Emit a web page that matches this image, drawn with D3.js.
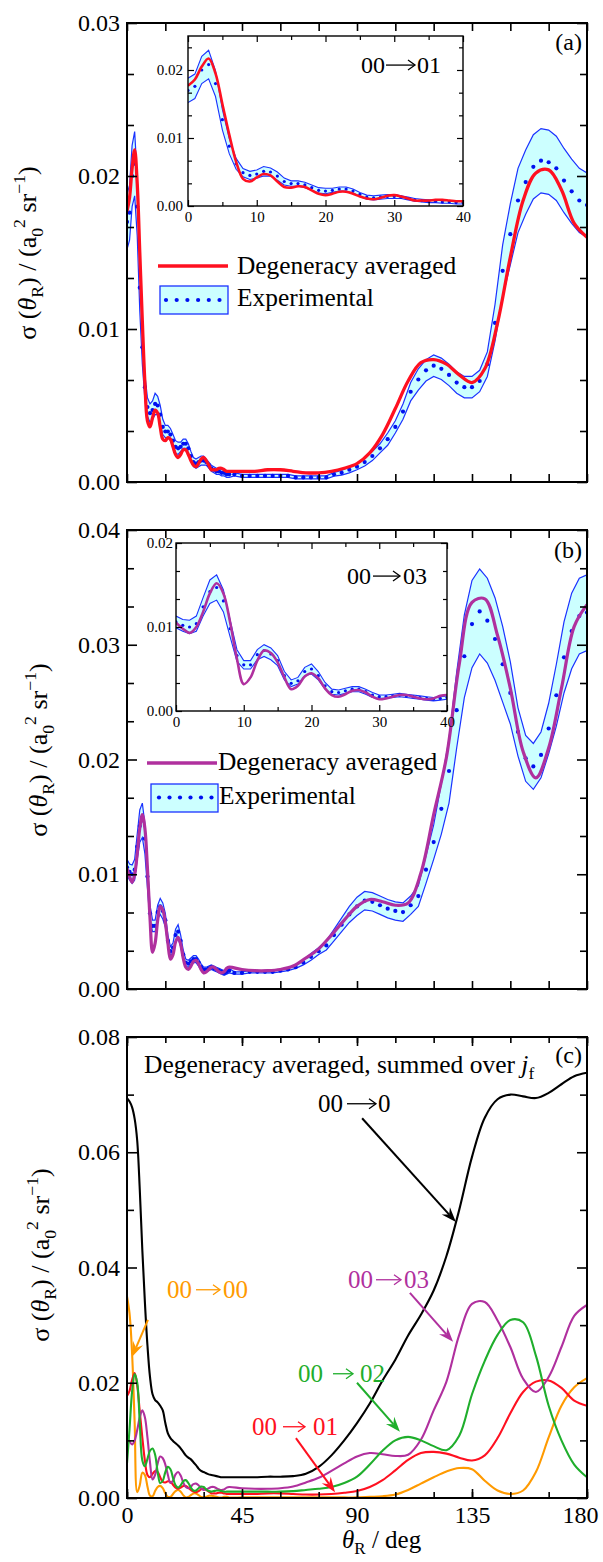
<!DOCTYPE html>
<html>
<head>
<meta charset="utf-8">
<script src="https://cdn.jsdelivr.net/npm/d3@7/dist/d3.min.js"></script>
<style>
html,body{margin:0;padding:0;background:#fff;}
svg{display:block;}
</style>
</head>
<body>
<svg id="chart" width="603" height="1562"></svg>
<script>
// ================= DATA =================
const theoryAngles = [0,1,2,3,4,5,6,7,8,9,10,11,12,13,14,15,16,17,18,19,20,21,22,23,24,25,26,27,28,29,30,31,32,33,34,35,36,37,38,39,40,
  45,50,55,60,65,70,75,80,85,90,95,100,105,110,115,120,125,130,135,140,145,150,155,160,165,170,175,180];

const theory01 = [0.0177,0.0186,0.0205,0.0217,0.0195,0.0150,0.0105,0.0065,0.0040,0.0036,0.0042,0.0047,0.0045,0.0036,0.0028,0.0027,0.0029,0.0028,0.0023,0.0018,0.0016,0.0018,0.0021,0.0021,0.0018,0.0014,0.0011,0.0010,0.0012,0.0015,0.0016,0.0014,0.0011,0.0008,0.0008,0.0008,0.0009,0.0009,0.0008,0.0007,0.0007,
  0.0007,0.0007,0.0008,0.0008,0.0007,0.0006,0.0006,0.0007,0.0009,0.0012,0.0019,0.0031,0.0048,0.0066,0.0078,0.0080,0.0077,0.0070,0.0065,0.0074,0.0104,0.0147,0.0184,0.0202,0.0204,0.0191,0.0169,0.0160];

const theory03 = [0.0105,0.0098,0.0093,0.0100,0.0118,0.0140,0.0152,0.0140,0.0105,0.0062,0.0032,0.0040,0.0060,0.0072,0.0069,0.0058,0.0040,0.0026,0.0030,0.0041,0.0045,0.0039,0.0027,0.0019,0.0017,0.0020,0.0024,0.0025,0.0022,0.0017,0.0014,0.0015,0.0017,0.0019,0.0019,0.0017,0.0015,0.0014,0.0015,0.0018,0.0019,
  0.0017,0.0016,0.0016,0.0017,0.0020,0.0027,0.0035,0.0047,0.0060,0.0072,0.0078,0.0076,0.0073,0.0075,0.0101,0.0152,0.0202,0.0283,0.0337,0.0340,0.0308,0.0262,0.0207,0.0184,0.0210,0.0262,0.0316,0.0335];

const theory02 = [0.0060,0.0120,0.0185,0.0215,0.0200,0.0130,0.0065,0.0055,0.0068,0.0082,0.0086,0.0075,0.0045,0.0026,0.0030,0.0045,0.0054,0.0050,0.0035,0.0022,0.0018,0.0022,0.0029,0.0031,0.0026,0.0018,0.0013,0.0013,0.0017,0.0020,0.0019,0.0015,0.0012,0.0011,0.0012,0.0013,0.0013,0.0012,0.0011,0.0011,0.0011,
  0.0011,0.0011,0.0011,0.0011,0.0012,0.0014,0.0016,0.0019,0.0026,0.0037,0.0058,0.0082,0.0100,0.0106,0.0100,0.0090,0.0083,0.0108,0.0180,0.0238,0.0283,0.0309,0.0305,0.0247,0.0160,0.0100,0.0058,0.0036];

const theory00 = [0.0350,0.0320,0.0250,0.0130,0.0010,0.0022,0.0044,0.0040,0.0020,0.0004,0.0003,0.0012,0.0019,0.0021,0.0017,0.0008,0.0002,0.0002,0.0007,0.0012,0.0014,0.0011,0.0005,0.0001,0.0002,0.0005,0.0008,0.0008,0.0005,0.0002,0.0001,0.0002,0.0004,0.0004,0.0003,0.0002,0.0001,0.0001,0.0002,0.0002,0.0001,
  0.0001,0.0001,0.0001,0.0001,0.0001,0.0001,0.0001,0.0001,0.0001,0.0001,0.0002,0.0003,0.0006,0.0014,0.0025,0.0036,0.0046,0.0052,0.0050,0.0030,0.0013,0.0007,0.0013,0.0045,0.0105,0.0160,0.0192,0.0208];

const theorySum = [0.0694,0.0688,0.0678,0.0658,0.0620,0.0535,0.0430,0.0340,0.0265,0.0210,0.0180,0.0170,0.0166,0.0160,0.0152,0.0130,0.0112,0.0104,0.0099,0.0095,0.0091,0.0086,0.0080,0.0074,0.0070,0.0067,0.0062,0.0057,0.0051,0.0047,0.0045,0.0043,0.0041,0.0040,0.0039,0.0038,0.0037,0.0036,0.0036,0.0036,0.0036,
  0.0036,0.0036,0.0037,0.0037,0.0038,0.0042,0.0054,0.0074,0.0100,0.0130,0.0164,0.0204,0.0240,0.0282,0.0318,0.0360,0.0420,0.0500,0.0592,0.0660,0.0692,0.0700,0.0697,0.0694,0.0703,0.0718,0.0732,0.0738];

const expAngles = [0,1,2,3,4,5,6,7,8,9,10,11,12,13,14,15,16,17,18,19,20,21,22,23,24,25,26,27,28,29,30,31,32,33,34,35,36,37,38,39,40,
  42,45,48,51,54,57,60,63,66,69,72,75,78,81,84,87,90,93,96,99,102,105,108,111,114,117,120,123,126,129,132,135,138,141,144,147,150,153,156,159,162,165,168,171,174,177,180];

const exp01 = [0.0170,0.0176,0.0200,0.0208,0.0180,0.0127,0.0088,0.0062,0.0049,0.0045,0.0047,0.0051,0.0050,0.0044,0.0036,0.0033,0.0033,0.0031,0.0027,0.0023,0.0022,0.0023,0.0025,0.0025,0.0022,0.0017,0.0013,0.0012,0.0013,0.0014,0.0014,0.0013,0.0011,0.0009,0.0008,0.0007,0.0007,0.0006,0.0006,0.0005,0.0005,
  0.0005,0.0004,0.0004,0.0004,0.0004,0.0004,0.0004,0.0004,0.0003,0.0003,0.0003,0.0003,0.0003,0.0005,0.0006,0.0008,0.0010,0.0013,0.0017,0.0022,0.0028,0.0036,0.0046,0.0059,0.0067,0.0073,0.0076,0.0074,0.0070,0.0065,0.0062,0.0062,0.0066,0.0077,0.0104,0.0138,0.0162,0.0184,0.0196,0.0206,0.0210,0.0209,0.0205,0.0197,0.0190,0.0184,0.0181];
const err01 = [0.0018,0.0018,0.0020,0.0021,0.0019,0.0015,0.0011,0.0008,0.0006,0.0006,0.0006,0.0007,0.0006,0.0006,0.0005,0.0004,0.0004,0.0004,0.0004,0.0004,0.0004,0.0003,0.0003,0.0003,0.0003,0.0003,0.0003,0.0003,0.0003,0.0003,0.0003,0.0002,0.0002,0.0002,0.0002,0.0002,0.0002,0.0002,0.0002,0.0002,0.0002,
  0.0001,0.0001,0.0001,0.0001,0.0001,0.0001,0.0001,0.0001,0.0001,0.0001,0.0001,0.0001,0.0001,0.00012,0.00015,0.0002,0.0002,0.00025,0.0003,0.0003,0.0004,0.0004,0.0005,0.0006,0.0007,0.0007,0.0007,0.0007,0.0007,0.0007,0.0007,0.0007,0.0007,0.0008,0.0012,0.0017,0.0020,0.0021,0.0021,0.0021,0.0021,0.0021,0.0021,0.0021,0.0021,0.0021,0.0021];

const exp03 = [0.0106,0.0102,0.0100,0.0104,0.0124,0.0142,0.0147,0.0131,0.0098,0.0066,0.0055,0.0055,0.0067,0.0072,0.0068,0.0060,0.0042,0.0033,0.0036,0.0047,0.0050,0.0042,0.0030,0.0023,0.0022,0.0024,0.0026,0.0026,0.0023,0.0019,0.0017,0.0017,0.0018,0.0019,0.0018,0.0017,0.0016,0.0015,0.0014,0.0015,0.0016,
  0.0014,0.0014,0.0015,0.0015,0.0015,0.0015,0.0016,0.0017,0.0019,0.0023,0.0028,0.0033,0.0038,0.0047,0.0056,0.0065,0.0072,0.0077,0.0076,0.0073,0.0070,0.0068,0.0067,0.0073,0.0081,0.0104,0.0128,0.0157,0.0190,0.0243,0.0290,0.0318,0.0329,0.0321,0.0305,0.0283,0.0258,0.0224,0.0201,0.0194,0.0204,0.0227,0.0256,0.0289,0.0312,0.0325,0.0328];
const err03 = [0.0007,0.0007,0.0008,0.0009,0.0011,0.0014,0.0015,0.0013,0.0010,0.0007,0.0005,0.0005,0.0006,0.0007,0.0007,0.0006,0.0005,0.0004,0.0004,0.0005,0.0006,0.0005,0.0004,0.0003,0.0003,0.0003,0.0003,0.0003,0.0003,0.0003,0.0002,0.0002,0.0002,0.0002,0.0002,0.0002,0.0002,0.0002,0.0002,0.0002,0.0002,
  0.0001,0.0001,0.0001,0.0001,0.0001,0.0001,0.0001,0.0001,0.0001,0.0002,0.0003,0.0003,0.0004,0.0005,0.0006,0.0007,0.0008,0.0008,0.0008,0.0008,0.0008,0.0008,0.0008,0.0008,0.0009,0.0012,0.0015,0.0022,0.0028,0.0033,0.0036,0.0038,0.0037,0.0037,0.0036,0.0033,0.0027,0.0021,0.0020,0.0020,0.0020,0.0022,0.0027,0.0031,0.0033,0.0033,0.0033];

const xMinorTicks = [0,15,30,45,60,75,90,105,120,135,150,165,180];
const xMajorLabels = [0,45,90,135,180];
const insetXTicks = [0,10,20,30,40];
const insetXMinor = [5,15,25,35];
const yTicksA = [0,0.01,0.02,0.03];
const yTicksB = [0,0.01,0.02,0.03,0.04];
const yTicksC = [0,0.02,0.04,0.06,0.08];
const insetYTicksA = [0,0.01,0.02];
const insetYTicksB = [0,0.01,0.02];

// ================= DRAW =================
const FONT = "'Liberation Serif'";
const svg = d3.select("#chart");
const COL = {red:"#ff1020", mag:"#b0309e", green:"#1fae2c", orange:"#ff9a00", black:"#000",
             blue:"#1a32ff", band:"#ccffff", dot:"#0010f0"};
const FS = 24;

const zip = (xs, ys) => xs.map((x,i)=>[x, ys[i]]);
const theoryLine = (x,y) => d3.line().x(d=>x(d[0])).y(d=>y(d[1])).curve(d3.curveCatmullRom.alpha(0.5));

function txt(parent, x, y, s, fs, opts={}){
  const t = parent.append("text").attr("x",x).attr("y",y).text(s)
    .style("font-family",FONT).style("font-size",fs+"px").style("fill",opts.fill||"#000");
  if (opts.anchor) t.attr("text-anchor",opts.anchor);
  return t;
}

// label like "00 → 01" with a drawn arrow
function arrowLabel(parent, L, fs, color){
  txt(parent, L.x0, L.y, L.left, fs, {fill:color});
  txt(parent, L.x1, L.y, L.right, fs, {fill:color});
  const ym = L.y - fs*0.33;
  parent.append("line").attr("x1",L.a0).attr("x2",L.a1-0.6).attr("y1",ym).attr("y2",ym)
    .attr("stroke",color).attr("stroke-width",1.3);
  parent.append("path").attr("d",`M${L.a1-7},${ym-5} L${L.a1},${ym} L${L.a1-7},${ym+5}`)
    .attr("fill","none").attr("stroke",color).attr("stroke-width",1.3);
}

let clipId = 0;
function clipRect(x, y){
  const id = "clip"+(clipId++);
  const [x0,x1]=x.range(), [y0,y1]=y.range();
  svg.append("clipPath").attr("id",id).append("rect")
    .attr("x",x0).attr("y",y1).attr("width",x1-x0).attr("height",y0-y1);
  return "url(#"+id+")";
}

function cleanAxis(sel, fs){
  sel.attr("font-size",null).attr("font-family",null);
  sel.select(".domain").remove();
  sel.selectAll("text").style("font-size",fs+"px").style("font-family",FONT).attr("fill","#000");
}

function drawAxes(x, y, o){
  const [x0,x1]=x.range(), [y0,y1]=y.range();
  const g = svg.append("g");
  g.append("g").attr("transform",`translate(0,${y0})`)
    .call(d3.axisBottom(x).tickValues(o.xMinor).tickSize(-o.xt).tickFormat("")).call(s=>cleanAxis(s,o.fs));
  if (o.xLabels){
    const gl = g.append("g").attr("transform",`translate(0,${y0})`)
      .call(d3.axisBottom(x).tickValues(o.xLabels).tickSize(-o.xtMajor).tickPadding(o.xPad).tickFormat(d3.format("d"))).call(s=>cleanAxis(s,o.fs));
    if (o.lastShift) gl.selectAll(".tick text").filter((d,i,n)=>i===n.length-1).attr("dx",o.lastShift);
  }
  g.append("g").attr("transform",`translate(0,${y1})`)
    .call(d3.axisTop(x).tickValues(o.xMinor).tickSize(-o.xt).tickFormat("")).call(s=>cleanAxis(s,o.fs));
  if (o.xLabels){
    g.append("g").attr("transform",`translate(0,${y1})`)
      .call(d3.axisTop(x).tickValues(o.xLabels).tickSize(-o.xtMajor).tickFormat("")).call(s=>cleanAxis(s,o.fs));
  }
  g.append("g").attr("transform",`translate(${x0},0)`)
    .call(d3.axisLeft(y).tickValues(o.yMinor).tickSize(-o.ytMinor).tickFormat("")).call(s=>cleanAxis(s,o.fs));
  g.append("g").attr("transform",`translate(${x1},0)`)
    .call(d3.axisRight(y).tickValues(o.yMinor).tickSize(-o.ytMinor).tickFormat("")).call(s=>cleanAxis(s,o.fs));
  g.append("g").attr("transform",`translate(${x0},0)`)
    .call(d3.axisLeft(y).tickValues(o.yMajor).tickSize(-o.ytMajor).tickPadding(o.yPad).tickFormat(d3.format(".2f"))).call(s=>cleanAxis(s,o.fs));
  g.append("g").attr("transform",`translate(${x1},0)`)
    .call(d3.axisRight(y).tickValues(o.yMajor).tickSize(-o.ytMajor).tickFormat("")).call(s=>cleanAxis(s,o.fs));
  g.selectAll(".tick line").attr("stroke","#000").attr("stroke-width",o.tw);
  g.append("rect").attr("x",x0).attr("y",y1).attr("width",x1-x0).attr("height",y0-y1)
    .attr("fill","none").attr("stroke","#000").attr("stroke-width",o.fw);
}

function thirds(major){
  const out=[];
  for (let i=0;i<major.length-1;i++){
    const a=major[i], b=major[i+1];
    out.push(a+(b-a)/3, a+2*(b-a)/3);
  }
  return out;
}

function drawExperimental(g, x, y, mean, err, r, lw){
  const pts = expAngles.map((a,i)=>({a, m:mean[i], lo:mean[i]-err[i], hi:mean[i]+err[i]}));
  g.append("path").datum(pts)
    .attr("d", d3.area().x(d=>x(d.a)).y0(d=>y(d.lo)).y1(d=>y(d.hi)))
    .attr("fill",COL.band).attr("stroke","none");
  g.append("path").datum(pts).attr("d", d3.line().x(d=>x(d.a)).y(d=>y(d.hi)))
    .attr("fill","none").attr("stroke",COL.blue).attr("stroke-width",lw);
  g.append("path").datum(pts).attr("d", d3.line().x(d=>x(d.a)).y(d=>y(d.lo)))
    .attr("fill","none").attr("stroke",COL.blue).attr("stroke-width",lw);
  g.selectAll("circle.e").data(pts).enter().append("circle").attr("class","e")
    .attr("cx",d=>x(d.a)).attr("cy",d=>y(d.m)).attr("r",r).attr("fill",COL.dot);
}

function rich(parent, x, y, parts, fs, opts={}){
  const t = parent.append("text").attr("x",x).attr("y",y)
    .style("font-family",FONT).style("font-size",fs+"px").style("fill",opts.fill||"#000");
  if (opts.anchor) t.attr("text-anchor",opts.anchor);
  if (opts.transform) t.attr("transform",opts.transform);
  let shift=0;
  parts.forEach(p=>{
    let target=0, size=fs;
    if (p.sub){ target=fs*0.25; size=fs*0.68; }
    if (p.sup){ target=-fs*0.42; size=fs*0.68; }
    const ts = t.append("tspan").text(p.t).attr("dy",(target-shift)).style("font-size",size+"px");
    if (p.it) ts.style("font-style","italic");
    if (p.dx) ts.attr("dx",p.dx);
    shift=target;
  });
  return t;
}

const yTitleParts = [{t:"σ ("},{t:"θ",it:true},{t:"R",sub:true},{t:") / (a"},{t:"0",sub:true},{t:"2",sup:true},{t:" sr"},{t:"−1",sup:true},{t:")"}];
const YT = 26;

// ---------- Panel (a) ----------
(function(){
  const x = d3.scaleLinear().domain([0,180]).range([127,587]);
  const y = d3.scaleLinear().domain([0,0.03]).range([482,23]);
  const g = svg.append("g").attr("clip-path", clipRect(x,y));
  drawExperimental(g, x, y, exp01, err01, 2.1, 1.2);
  g.append("path").datum(zip(theoryAngles,theory01)).attr("d",theoryLine(x,y))
    .attr("fill","none").attr("stroke",COL.red).attr("stroke-width",3.3);
  drawAxes(x,y,{xMinor:xMinorTicks, xt:8, yMajor:yTicksA, yMinor:thirds(yTicksA), ytMajor:10, ytMinor:7, yPad:7, fs:FS, tw:1.6, fw:2});

  const xi = d3.scaleLinear().domain([0,40]).range([188,463]);
  const yi = d3.scaleLinear().domain([0,0.025]).range([206,36]);
  svg.append("rect").attr("x",188).attr("y",36).attr("width",275).attr("height",170).attr("fill","#fff");
  const gi = svg.append("g").attr("clip-path", clipRect(xi,yi));
  drawExperimental(gi, xi, yi, exp01, err01, 1.6, 1.1);
  gi.append("path").datum(zip(theoryAngles,theory01)).attr("d",theoryLine(xi,yi))
    .attr("fill","none").attr("stroke",COL.red).attr("stroke-width",2.6);
  drawAxes(xi,yi,{xMinor:insetXMinor, xLabels:insetXTicks, xt:4, xtMajor:6, xPad:5, yMajor:insetYTicksA, yMinor:thirds([0,0.01,0.02,0.03]).filter(v=>v<0.025), ytMajor:6, ytMinor:4, yPad:5, fs:15, tw:1.2, fw:1.4});
  arrowLabel(svg, {x0:361, y:73, left:"00", a0:386, a1:415, x1:417, right:"01"}, 24, "#000");
  txt(svg, 582, 50, "(a)", FS, {anchor:"end"});

  svg.append("line").attr("x1",158).attr("x2",228).attr("y1",266).attr("y2",266).attr("stroke",COL.red).attr("stroke-width",3.5);
  txt(svg, 237, 274, "Degeneracy averaged", 25.4);
  svg.append("rect").attr("x",160).attr("y",286).attr("width",68).attr("height",28).attr("fill",COL.band).attr("stroke",COL.blue).attr("stroke-width",1.3);
  for (let k=0;k<6;k++) svg.append("circle").attr("cx",166+k*10.7).attr("cy",300).attr("r",2.1).attr("fill",COL.dot);
  txt(svg, 237, 306, "Experimental", 25.4);

  rich(svg, 0, 0, yTitleParts, YT, {anchor:"middle", transform:"translate(36,253) rotate(-90)"});
})();

// ---------- Panel (b) ----------
(function(){
  const x = d3.scaleLinear().domain([0,180]).range([127,587]);
  const y = d3.scaleLinear().domain([0,0.04]).range([989,530]);
  const g = svg.append("g").attr("clip-path", clipRect(x,y));
  drawExperimental(g, x, y, exp03, err03, 2.1, 1.2);
  g.append("path").datum(zip(theoryAngles,theory03)).attr("d",theoryLine(x,y))
    .attr("fill","none").attr("stroke",COL.mag).attr("stroke-width",3.2);
  drawAxes(x,y,{xMinor:xMinorTicks, xt:8, yMajor:yTicksB, yMinor:thirds(yTicksB), ytMajor:10, ytMinor:7, yPad:7, fs:FS, tw:1.6, fw:2});

  const xi = d3.scaleLinear().domain([0,40]).range([176,447]);
  const yi = d3.scaleLinear().domain([0,0.02]).range([711,543]);
  svg.append("rect").attr("x",176).attr("y",543).attr("width",271).attr("height",168).attr("fill","#fff");
  const gi = svg.append("g").attr("clip-path", clipRect(xi,yi));
  drawExperimental(gi, xi, yi, exp03, err03, 1.6, 1.1);
  gi.append("path").datum(zip(theoryAngles,theory03)).attr("d",theoryLine(xi,yi))
    .attr("fill","none").attr("stroke",COL.mag).attr("stroke-width",2.6);
  drawAxes(xi,yi,{xMinor:insetXMinor, xLabels:insetXTicks, xt:4, xtMajor:6, xPad:5, yMajor:insetYTicksB, yMinor:thirds(insetYTicksB), ytMajor:6, ytMinor:4, yPad:3, fs:15, tw:1.2, fw:1.4});
  arrowLabel(svg, {x0:347, y:584, left:"00", a0:373, a1:400, x1:403, right:"03"}, 24, "#000");
  txt(svg, 582, 558, "(b)", FS, {anchor:"end"});

  svg.append("line").attr("x1",147).attr("x2",217).attr("y1",763).attr("y2",763).attr("stroke",COL.mag).attr("stroke-width",3.5);
  txt(svg, 218, 770, "Degeneracy averaged", 25.4);
  svg.append("rect").attr("x",151).attr("y",784).attr("width",67).attr("height",28).attr("fill",COL.band).attr("stroke",COL.blue).attr("stroke-width",1.3);
  for (let k=0;k<6;k++) svg.append("circle").attr("cx",159+k*10.5).attr("cy",797.5).attr("r",2.1).attr("fill",COL.dot);
  txt(svg, 219, 804, "Experimental", 25.4);

  rich(svg, 0, 0, yTitleParts, YT, {anchor:"middle", transform:"translate(47,750) rotate(-90)"});
})();

// ---------- Panel (c) ----------
(function(){
  const x = d3.scaleLinear().domain([0,180]).range([127,587]);
  const y = d3.scaleLinear().domain([0,0.08]).range([1498,1037]);
  const g = svg.append("g").attr("clip-path", clipRect(x,y));
  const series = [
    {v:theory00, c:COL.orange},
    {v:theory01, c:COL.red},
    {v:theory03, c:COL.mag},
    {v:theory02, c:COL.green},
    {v:theorySum, c:COL.black}
  ];
  series.forEach(s=>{
    g.append("path").datum(zip(theoryAngles,s.v)).attr("d",theoryLine(x,y))
      .attr("fill","none").attr("stroke",s.c).attr("stroke-width",2.1);
  });
  drawAxes(x,y,{xMinor:xMinorTicks, xLabels:xMajorLabels, xt:6, xtMajor:9, xPad:8, lastShift:-7, yMajor:yTicksC, yMinor:[0.01,0.03,0.05,0.07], ytMajor:10, ytMinor:7, yPad:7, fs:FS, tw:1.6, fw:2});

  txt(svg, 582, 1063, "(c)", FS, {anchor:"end"});
  rich(svg, 144, 1073, [{t:"Degeneracy averaged, summed over "},{t:"j",it:true},{t:"f",sub:true}], 25.5);

  const notes = [
    {c:COL.black,  L:{x0:318, y:1112, left:"00", a0:347, a1:376, x1:378, right:"0"},  p0:[92.0,0.0659],  p1:[128.7,0.0479]},
    {c:COL.mag,    L:{x0:348, y:1288, left:"00", a0:376, a1:401, x1:404, right:"03"}, p0:[110.7,0.0356], p1:[127.6,0.0271]},
    {c:COL.green,  L:{x0:298, y:1382, left:"00", a0:333, a1:353, x1:360, right:"02"}, p0:[90.0,0.0200],  p1:[106.8,0.0115]},
    {c:COL.red,    L:{x0:252, y:1435, left:"00", a0:283, a1:305, x1:313, right:"01"}, p0:[66.1,0.0104],  p1:[81.4,0.0010]},
    {c:COL.orange, L:{x0:167, y:1298, left:"00", a0:196, a1:220, x1:223, right:"00"}, p0:[8.2,0.0309],   p1:[2.0,0.0245]}
  ];
  notes.forEach(n=>{
    arrowLabel(svg, n.L, 25, n.c);
    const p0=[x(n.p0[0]),y(n.p0[1])], p1=[x(n.p1[0]),y(n.p1[1])];
    const dx=p1[0]-p0[0], dy=p1[1]-p0[1], len=Math.hypot(dx,dy), ux=dx/len, uy=dy/len;
    const L=15, w=5.5, nb=10;
    svg.append("line").attr("x1",p0[0]).attr("y1",p0[1]).attr("x2",p1[0]-ux*nb).attr("y2",p1[1]-uy*nb)
      .attr("stroke",n.c).attr("stroke-width",2);
    const bx=p1[0]-ux*L, by=p1[1]-uy*L;
    const pts=[[p1[0],p1[1]],[bx-uy*w,by+ux*w],[p1[0]-ux*nb,p1[1]-uy*nb],[bx+uy*w,by-ux*w]];
    svg.append("path").attr("d","M"+pts.map(p=>p.join(",")).join("L")+"Z").attr("fill",n.c);
  });

  rich(svg, 0, 0, yTitleParts, YT, {anchor:"middle", transform:"translate(49,1255) rotate(-90)"});
  rich(svg, 342, 1548, [{t:"θ",it:true},{t:"R",sub:true},{t:" / deg"}], 25);
})();
</script>
</body>
</html>
